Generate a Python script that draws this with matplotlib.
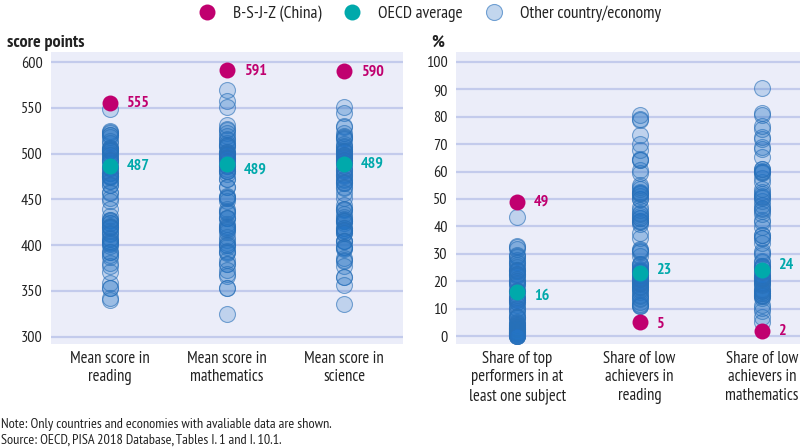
import matplotlib
matplotlib.use("Agg")
import matplotlib.pyplot as plt
import matplotlib.font_manager as fm
from matplotlib.lines import Line2D

# ---------------- data ----------------
left_categories = ["Mean score in\nreading", "Mean score in\nmathematics", "Mean score in\nscience"]
right_categories = ["Share of top\nperformers in at\nleast one subject", "Share of low\nachievers in\nreading",
                    "Share of low\nachievers in\nmathematics"]

reading_others = [549, 525, 524, 523, 520, 520, 518, 514, 512, 506, 506, 505, 504, 504, 503, 503, 501, 499,
                  498, 495, 493, 493, 492, 490, 485, 484, 484, 479, 479, 479, 476, 476, 476, 474, 474, 470,
                  470, 466, 466, 458, 457, 452, 448, 439, 432, 428, 427, 426, 424, 424, 421, 420, 420, 419,
                  415, 413, 412, 408, 407, 405, 403, 402, 401, 399, 393, 393, 389, 387, 380, 377, 371, 359,
                  353, 353, 342, 340]
math_others = [569, 558, 551, 531, 527, 526, 523, 519, 516, 515, 512, 509, 509, 508, 507, 502, 502, 501,
               500, 500, 499, 499, 496, 495, 495, 494, 492, 491, 488, 487, 486, 483, 481, 481, 481, 478,
               472, 472, 464, 463, 454, 453, 451, 451, 448, 440, 437, 436, 435, 430, 430, 430, 423, 421,
               420, 419, 418, 417, 414, 409, 406, 402, 400, 400, 398, 394, 393, 391, 384, 379, 379, 373,
               368, 366, 353, 353, 325]
science_others = [551, 544, 530, 529, 522, 519, 518, 517, 516, 511, 508, 507, 505, 503, 503, 503, 502, 499,
                  499, 497, 496, 495, 493, 493, 492, 490, 490, 487, 483, 482, 481, 478, 477, 475, 472, 471,
                  469, 468, 468, 464, 462, 457, 452, 444, 440, 439, 438, 434, 431, 429, 428, 426, 426, 426,
                  424, 419, 419, 417, 416, 415, 413, 413, 404, 404, 404, 398, 398, 397, 396, 386, 384, 383,
                  377, 365, 365, 357, 336]
top_perf_others = [43.3, 32.8, 32.3, 31.9, 29.6, 29.3, 29.0, 27.6, 27.1, 26.5, 26.0, 25.2, 24.1, 24.0, 23.7,
                   23.6, 22.8, 22.7, 22.3, 22.0, 20.8, 20.1, 20.1, 19.3, 18.9, 18.1, 16.6, 16.6, 16.3, 14.9,
                   14.3, 13.8, 13.4, 13.3, 13.0, 12.6, 12.3, 11.2, 10.4, 9.8, 9.1, 8.3, 6.9, 6.9, 6.8, 6.6,
                   5.2, 4.6, 4.4, 4.2, 4.0, 3.5, 3.3, 3.2, 2.9, 2.8, 2.7, 2.6, 2.5, 2.1, 1.9, 1.9, 1.6, 1.4,
                   1.4, 1.2, 1.2, 1.1, 0.9, 0.6, 0.6, 0.4, 0.3, 0.2, 0.2, 0.1, 0.1]
low_read_others = [10.8, 11.1, 11.2, 11.8, 12.6, 13.5, 13.8, 14.7, 15.1, 16.0, 16.8, 17.3, 17.8, 17.9, 18.4,
                   19.0, 19.3, 19.3, 19.6, 20.2, 20.7, 20.7, 20.9, 21.3, 21.6, 22.1, 22.4, 23.3, 23.4, 23.6,
                   23.6, 24.1, 24.4, 25.3, 25.9, 26.1, 26.4, 29.3, 30.5, 31.1, 31.4, 31.7, 35.9, 37.7, 40.8,
                   41.6, 41.9, 42.0, 42.9, 43.0, 43.7, 44.4, 44.7, 45.8, 47.1, 49.9, 50.0, 50.9, 51.8, 52.1,
                   52.2, 52.4, 53.7, 54.4, 55.1, 59.5, 60.4, 64.2, 64.3, 64.4, 67.8, 69.9, 73.3, 78.7, 79.1,
                   80.6]
low_math_others = [5.0, 7.1, 9.2, 10.2, 11.5, 14.0, 14.6, 14.7, 15.0, 15.0, 15.7, 15.8, 16.3, 16.4, 16.8,
                   17.3, 18.8, 18.9, 19.2, 19.7, 20.4, 20.7, 21.1, 21.1, 21.3, 21.6, 21.8, 22.4, 23.3, 23.8,
                   24.7, 25.1, 25.6, 25.6, 27.1, 27.2, 29.4, 30.2, 31.2, 34.1, 35.8, 35.9, 36.7, 36.9, 39.7,
                   41.5, 42.4, 44.4, 45.5, 46.2, 46.6, 47.9, 49.1, 50.3, 50.7, 50.9, 51.9, 52.7, 53.7, 56.2,
                   57.6, 59.3, 59.8, 60.0, 60.3, 61.0, 61.1, 65.4, 68.1, 69.0, 71.9, 72.7, 75.6, 76.5, 80.7,
                   81.2, 90.6]

left_others = [reading_others, math_others, science_others]
right_others = [top_perf_others, low_read_others, low_math_others]
left_china = [555, 591, 590]
left_oecd = [487, 489, 489]
right_china = [49, 5, 2]
right_oecd = [16, 23, 24]

left_yticks = [300, 350, 400, 450, 500, 550, 600]
right_yticks = [0, 10, 20, 30, 40, 50, 60, 70, 80, 90, 100]

legend_labels = ["B-S-J-Z (China)", "OECD average", "Other country/economy"]
note_text = "Note: Only countries and economies with avaliable data are shown."
source_text = "Source: OECD, PISA 2018 Database, Tables I. 1 and I. 10.1."

# ---------------- style ----------------
names = {f.name for f in fm.fontManager.ttflist}
stretch = "normal"
family = None
for cand in ["PT Sans Narrow", "Fira Sans Condensed", "Roboto Condensed", "Open Sans Condensed",
             "IBM Plex Sans Condensed", "Encode Sans Condensed", "Liberation Sans Narrow"]:
    if cand in names:
        family = cand
        break
if family is None:
    family = "Open Sans"
    stretch = "condensed"
plt.rcParams["font.family"] = [family, "DejaVu Sans"]
plt.rcParams["font.stretch"] = stretch

MAGENTA = "#c0006f"
TEAL = "#00a9ab"
OTHER_FILL = (0.14, 0.45, 0.77, 0.22)
OTHER_EDGE = (0.16, 0.44, 0.72, 0.6)
BG = "#ebedf9"
GRID = "#c3cbec"
TXT = "#222222"
MS = 132  # marker area (pt^2)
FS_TICK = 11.5
FS_CAT = 12
FS_LAB = 11.5

fig = plt.figure(figsize=(8, 4.48), dpi=100)
W, H = 800, 448

ax1 = fig.add_axes([51 / W, 1 - 344 / H, 352 / W, 292 / H])
ax2 = fig.add_axes([456 / W, 1 - 344 / H, 367 / W, 292 / H])


def style(ax, yticks, ylim, cats):
    ax.set_facecolor(BG)
    for s in ax.spines.values():
        s.set_visible(False)
    ax.set_ylim(*ylim)
    ax.set_xlim(-0.5, 2.5)
    ax.set_yticks(yticks)
    ax.set_yticklabels([str(t) for t in yticks], fontsize=FS_TICK, color=TXT)
    ax.set_xticks(range(len(cats)))
    ax.set_xticklabels(cats, fontsize=FS_CAT, color=TXT, linespacing=1.2)
    ax.tick_params(axis="both", length=0)
    ax.tick_params(axis="y", pad=6)
    ax.tick_params(axis="x", pad=5)
    ax.yaxis.grid(True, color=GRID, linewidth=1.6)
    ax.set_axisbelow(True)


style(ax1, left_yticks, (292, 611), left_categories)
style(ax2, right_yticks, (-2.9, 103.6), right_categories)


def draw(ax, others, china, oecd, offsets):
    for i, vals in enumerate(others):
        ax.scatter([i] * len(vals), vals, s=MS, facecolor=OTHER_FILL, edgecolor=OTHER_EDGE,
                   linewidth=0.8, zorder=3)
    for i, (c, o) in enumerate(zip(china, oecd)):
        ax.scatter([i], [o], s=MS, color=TEAL, linewidth=0, zorder=4)
        ax.scatter([i], [c], s=MS, color=MAGENTA, linewidth=0, zorder=5)
        dc, do = offsets[i]
        ax.annotate(f"{c:g}", (i, c), xytext=(12, dc), textcoords="offset points",
                    ha="left", va="center", fontsize=FS_LAB, fontweight="bold", color=MAGENTA, zorder=6)
        ax.annotate(f"{o:g}", (i, o), xytext=(12, do), textcoords="offset points",
                    ha="left", va="center", fontsize=FS_LAB, fontweight="bold", color=TEAL, zorder=6)


draw(ax1, left_others, left_china, left_oecd, [(0, 0), (0, -4.5), (0, 0)])
draw(ax2, right_others, right_china, right_oecd, [(0, -3), (-1, 2), (0, 3.5)])

fig.text(7 / W, 1 - 43 / H, "score points", fontsize=13, fontweight="bold", color=TXT,
         ha="left", va="center")
fig.text(431 / W, 1 - 43 / H, "%", fontsize=13, fontweight="bold", color=TXT,
         ha="left", va="center")

handles = [
    Line2D([], [], marker="o", linestyle="", markersize=11.5, markerfacecolor=MAGENTA, markeredgewidth=0),
    Line2D([], [], marker="o", linestyle="", markersize=11.5, markerfacecolor=TEAL, markeredgewidth=0),
    Line2D([], [], marker="o", linestyle="", markersize=11.5, markerfacecolor="#c2d6ee",
           markeredgecolor="#6f9fd2", markeredgewidth=0.8),
]
fig.legend(handles, legend_labels, loc="center", bbox_to_anchor=(0.536, 1 - 14 / H), ncol=3,
           frameon=False, fontsize=12.5, handlelength=1.2, handletextpad=0.9, columnspacing=1.2,
           labelcolor=TXT)

fig.text(1 / W, 1 - 424 / H, note_text, fontsize=10.3, color=TXT, ha="left", va="center")
fig.text(1 / W, 1 - 440 / H, source_text, fontsize=10.3, color=TXT, ha="left", va="center")

fig.savefig("out.png", dpi=100)
